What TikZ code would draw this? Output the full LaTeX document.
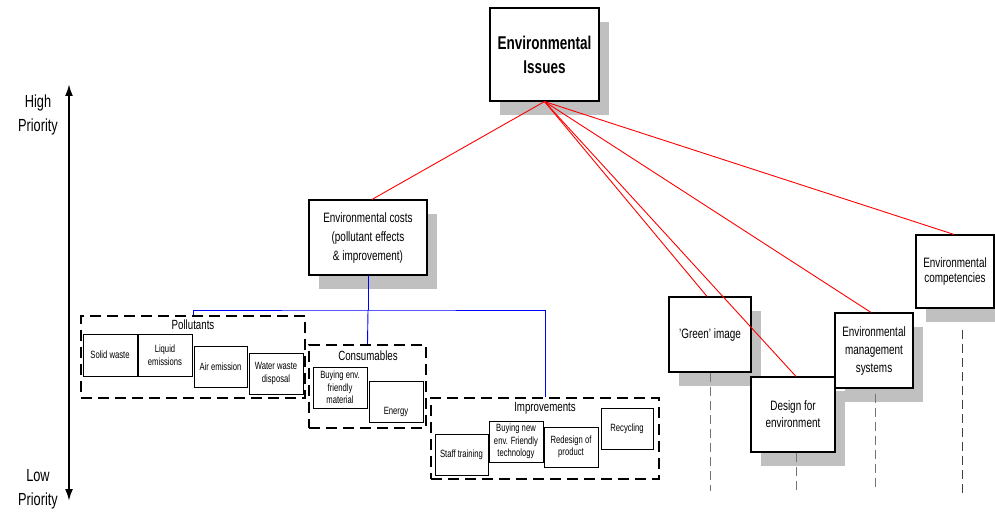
\documentclass[tikz,border=0pt]{standalone}
\usepackage{fontspec}
\setmainfont{Liberation Sans}[FakeStretch=0.73]
\usetikzlibrary{arrows.meta,shadows}
\definecolor{shadowgray}{RGB}{192,192,192}
\definecolor{dashgray}{RGB}{115,115,115}
\begin{document}
\begin{tikzpicture}[x=1pt,y=-1pt,
  shadowed/.style={drop shadow={shadow xshift=10pt,shadow yshift=-14pt,fill=shadowgray,opacity=1}},
  mainbox/.style={draw=black,line width=1.1pt,fill=white,align=center,inner sep=0pt,shadowed,
     font=\fontsize{13.6}{18}\selectfont},
  groupbox/.style={draw=black,line width=2.2pt,dash pattern=on 11pt off 6pt,inner sep=0pt},
  smallbox/.style={draw=black,line width=0.8pt,fill=white,align=center,inner sep=0pt,
     font=\fontsize{10.5}{12.5}\selectfont},
  grouptitle/.style={inner sep=0pt,font=\fontsize{13.3}{14}\selectfont},
  redline/.style={draw=red,line width=0.9pt},
  blueline/.style={draw=blue,line width=0.9pt},
  vdash/.style={draw=dashgray,line width=1pt,dash pattern=on 9pt off 5pt},
  prio/.style={align=center,inner sep=0pt,font=\fontsize{17.5}{24}\selectfont}
]
\useasboundingbox (0,0) rectangle (995,516);

% priority axis
\node[prio] (high) at (38,115) {High\\Priority};
\node[prio] (low) at (38,489) {Low\\Priority};
\coordinate (hi) at (69,84);
\coordinate (lo) at (69,501);
\draw[line width=2pt,{Latex[length=12pt,width=8pt]}-{Latex[length=12pt,width=8pt]}] (hi) -- (lo);

% main boxes
\node[mainbox,minimum width=109pt,minimum height=93pt,font=\bfseries\fontsize{18.5}{24}\selectfont]
  (top) at (544.5,54.5) {Environmental\\Issues};
\node[mainbox,minimum width=118pt,minimum height=75pt,font=\fontsize{13.6}{19}\selectfont]
  (costs) at (368,237.5) {Environmental costs\\(pollutant effects\\\& improvement)};
\node[mainbox,minimum width=82pt,minimum height=75pt] (green) at (710,334.5) {'Green' image};
\node[mainbox,minimum width=84pt,minimum height=75pt,font=\fontsize{13.6}{17}\selectfont]
  (design) at (793,414.5) {Design for\\environment};
\node[mainbox,minimum width=78pt,minimum height=75pt] (ems) at (874,350.5) {Environmental\\management\\systems};
\node[mainbox,minimum width=78pt,minimum height=73pt,font=\fontsize{13.6}{15.5}\selectfont]
  (comp) at (955,271.5) {Environmental\\competencies};

% group boxes
\node[groupbox,minimum width=224pt,minimum height=82pt] (pol) at (193,357) {};
\node[groupbox,minimum width=117pt,minimum height=83pt] (cons) at (367.5,386.5) {};
\node[groupbox,minimum width=228pt,minimum height=81pt] (imp) at (545,438.5) {};
\node[grouptitle] (polT) at (193,325) {Pollutants};
\node[grouptitle] (consT) at (368,356) {Consumables};
\node[grouptitle] (impT) at (545,408) {Improvements};

% small boxes
\node[smallbox,minimum width=54pt,minimum height=42pt] (solid) at (110,355) {Solid waste};
\node[smallbox,minimum width=54pt,minimum height=42pt] (liquid) at (165,355) {Liquid\\emissions};
\node[smallbox,minimum width=53pt,minimum height=41pt] (air) at (220.5,366.5) {Air emission};
\node[smallbox,minimum width=54pt,minimum height=41pt] (water) at (276,373.5) {Water waste\\disposal};
\node[smallbox,minimum width=54pt,minimum height=41pt] (buyenv) at (340,387.5) {Buying env.\\friendly\\material};
\node[smallbox,minimum width=54pt,minimum height=41pt,
  label={[name=energyT,yshift=-10pt,inner sep=0pt,font=\fontsize{10.5}{12.5}\selectfont]center:Energy}]
  (energy) at (396,401.5) {};
\node[smallbox,minimum width=53pt,minimum height=41pt] (staff) at (461.5,454.5) {Staff training};
\node[smallbox,minimum width=54pt,minimum height=41pt] (buynew) at (516,441.5) {Buying new\\env. Friendly\\technology};
\node[smallbox,minimum width=54pt,minimum height=40pt] (redesign) at (571,447) {Redesign of\\product};
\node[smallbox,minimum width=52pt,minimum height=41pt] (recycle) at (627,428.5) {Recycling};

% red connectors
\draw[redline] (top.south) -- ([xshift=4pt]costs.north);
\draw[redline] (top.south) -- ([xshift=-3pt]green.north);
\draw[redline] (top.south) -- ([xshift=3pt]design.north);
\draw[redline] (top.south) -- ([xshift=-3pt]ems.north);
\draw[redline] (top.south) -- ([xshift=-1pt]comp.north);

% blue connectors
\coordinate (bus) at (368,310);
\draw[blueline] (costs.south) -- (bus);
\draw[blueline] (pol.north) |- (bus) -| (imp.north);
\draw[blueline] (bus) -- (cons.north);

% grey dashed verticals
\coordinate (gEnd) at (710,491);
\coordinate (dEnd) at (796,494);
\coordinate (eEnd) at (875,491);
\coordinate (cStart) at (962,330);
\coordinate (cEnd) at (962,494);
\draw[vdash] (green.south) -- (gEnd);
\draw[vdash] ([xshift=3pt]design.south) -- (dEnd);
\draw[vdash] ([xshift=1pt,yshift=-5pt]ems.south) -- (eEnd);
\draw[vdash,draw=black!75] (cStart) -- (cEnd);
\end{tikzpicture}
\end{document}
